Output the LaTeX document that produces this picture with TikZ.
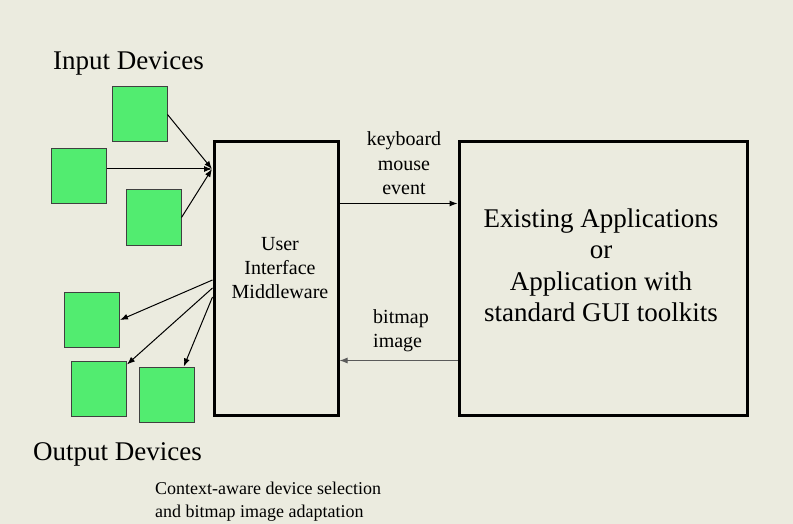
\documentclass[tikz,border=0pt]{standalone}
\usepackage{fontspec}
\setmainfont{Liberation Serif}
\usepackage{tikz}
\usetikzlibrary{arrows.meta,calc,positioning}
\definecolor{PaperBeige}{RGB}{235,235,223}
\definecolor{DeviceGreen}{RGB}{82,236,112}
\definecolor{DeviceEdge}{RGB}{64,64,64}
\definecolor{ReturnGray}{RGB}{90,90,90}

\begin{document}
\begin{tikzpicture}[x=1pt,y=-1pt,>={Latex[length=8pt,width=6pt]},
  dev/.style={rectangle,draw=DeviceEdge,fill=DeviceGreen,line width=1pt,minimum size=55pt,inner sep=0pt},
  unit/.style={rectangle,draw=black,line width=3pt,inner sep=0pt},
  lbl/.style={inner sep=0pt,anchor=base,align=center,font=\fontsize{20}{24}\selectfont},
  big/.style={inner sep=0pt,font=\fontsize{27}{29}\selectfont}]
\fill[PaperBeige] (0,0) rectangle (793,524);
\useasboundingbox (0,0) rectangle (793,524);
% middleware and application blocks
\node[unit,minimum width=124pt,minimum height=273pt] (mid) at (276,278.5){};
\node[unit,minimum width=288pt,minimum height=273pt] (app) at (603,278.5){};
\node[lbl] (midtxt) at (280,298){User\\Interface\\Middleware};
\node[big,anchor=base,align=center,font=\fontsize{27}{31.5}\selectfont] (apptxt) at (601,321.5){Existing Applications\\or\\Application with\\standard GUI toolkits};
% devices
\node[dev] (inA) at (139.5,114.5){};
\node[dev] (inB) at (78.5,176.5){};
\node[dev] (inC) at (153.5,217.5){};
\node[dev] (outA) at (92,320){};
\node[dev] (outB) at (99,388.5){};
\node[dev] (outC) at (167,394.5){};
\coordinate (hub) at (212,169);
\draw[->,line width=1pt] (inA.east)--(hub);
\draw[->,line width=1pt] (inB.east |- hub)--(hub);
\draw[->,line width=1pt] (inC.east)--(hub);
\draw[->,line width=1pt] ($(mid.west)+(0,1.5)$)--(outA.east);
\draw[->,line width=1pt] ($(mid.west)+(0,9.5)$)--($(outB.north east)+(0,4)$);
\draw[->,line width=1pt] ($(mid.west)+(0,18.5)$)--($(outC.north west)!0.8!(outC.north east)$);
% traffic between the blocks
\draw[->,line width=1pt] ([yshift=75pt]mid.east)--([yshift=75pt]app.west);
\draw[<-,line width=1pt,ReturnGray] ([yshift=-82pt]mid.east)--([yshift=-82pt]app.west);
\node[lbl] (evt) at (404,194){keyboard\\mouse\\event};
\node[lbl,anchor=base west,align=left] (bmp) at (373,347){bitmap\\image};
% captions
\node[big,anchor=base west] (intitle) at (53,70){Input Devices};
\node[big,anchor=base west] (outtitle) at (33,460){Output Devices};
\node[inner sep=0pt,anchor=base west,align=left,font=\fontsize{18}{23.5}\selectfont] (note) at (155,517.5){Context-aware device selection\\and bitmap image adaptation};
\end{tikzpicture}
\end{document}
